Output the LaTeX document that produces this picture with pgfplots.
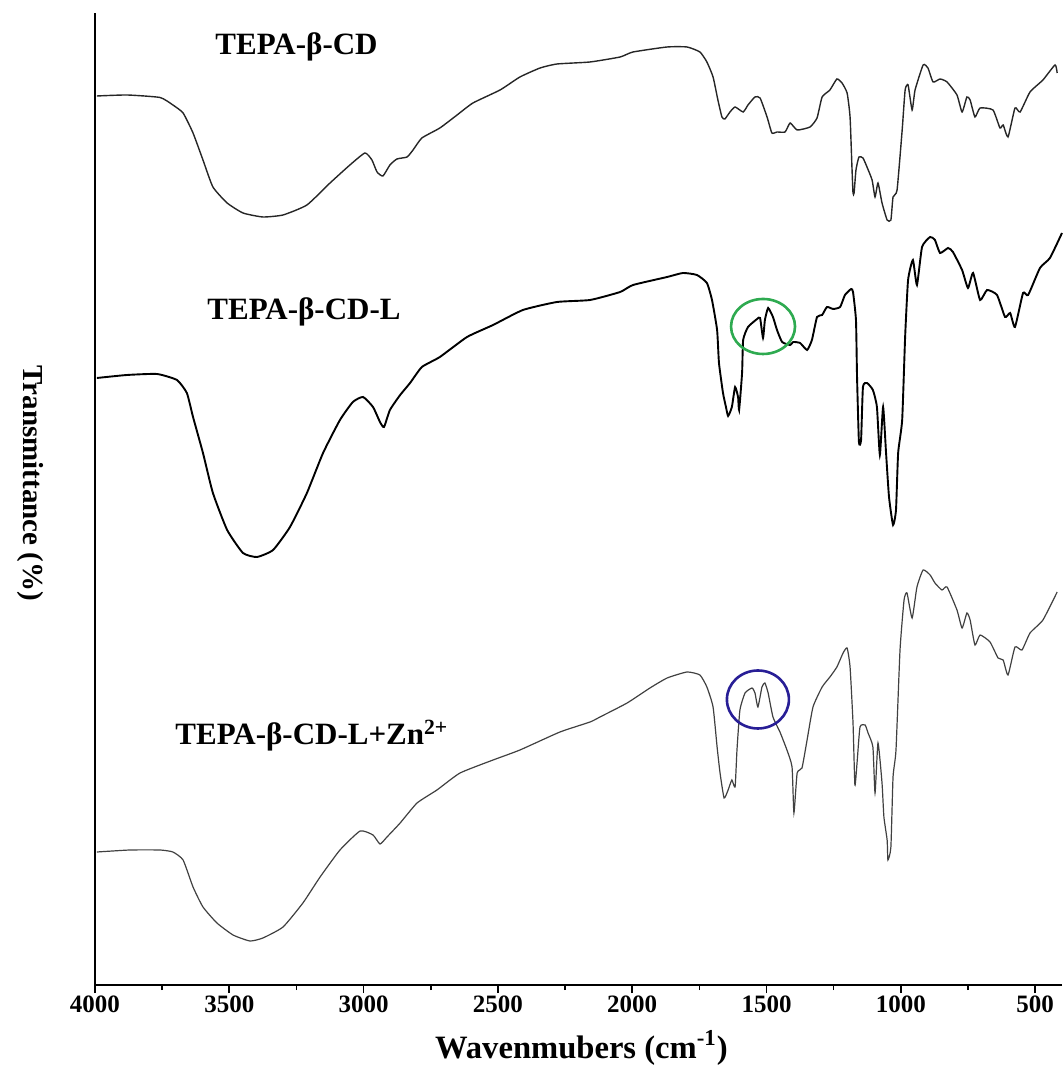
\documentclass[border=0pt]{standalone}
\usepackage{fontspec}
\setmainfont{Liberation Serif}
\usepackage{pgfplots}
\pgfplotsset{compat=1.18}
\definecolor{ringgreen}{RGB}{46,170,80}
\definecolor{ringblue}{RGB}{40,30,150}
\begin{document}
\begin{tikzpicture}
\useasboundingbox (-47.5pt,-47pt) rectangle (483.5pt,492.5pt);
\begin{axis}[
  at={(0pt,0pt)}, anchor=south west,
  scale only axis, width=483.5pt, height=486pt,
  x dir=reverse, xmin=400, xmax=4000, ymin=0, ymax=972,
  axis x line*=bottom, axis y line*=left,
  axis line style={-, line width=1pt},
  ytick=\empty,
  xtick={500,1000,...,4000},
  minor xtick={750,1250,...,3750},
  tick align=outside, major tick length=4pt, minor tick length=2.5pt,
  tick style={line width=0.8pt, black},
  xticklabel style={font=\fontsize{12.5}{12.5}\selectfont\bfseries, yshift=2pt},
  /pgf/number format/assume math mode=true,
  /pgf/number format/set thousands separator={},
  xlabel={\fontsize{16.3}{16.3}\selectfont\bfseries Wavenmubers (cm\textsuperscript{-1})},
  xlabel style={at={(axis description cs:0.503,-0.065)}, anchor=center},
  ylabel={\fontsize{14.5}{14.5}\selectfont\bfseries Transmittance (\%)},
  ylabel style={rotate=180, at={(axis description cs:-0.067,0.516)}, anchor=center},
  clip=false,
]
% TEPA-beta-CD
\addplot[black!85, line width=0.7pt, smooth, tension=0.3] coordinates {
(3993,889)(3881,890)(3758,887.5)(3710,880)(3672,872)(3635,852)(3598,825)(3561,798)(3508,782)(3449,772)
(3375,768)(3300,770)(3211,780)(3125,802)(3051,820)(2995,832)(2969,825)(2950,813)(2928,809)(2902,820)
(2876,826)(2838,828)(2816,835)(2783,847)(2716,857)(2652,870)(2593,882)(2492,895)(2418,908)(2343,917)
(2280,921)(2157,923)(2045,928)(1997,933)(1870,938)(1796,938)(1748,933)(1722,923)(1699,908)(1681,885)
(1666,868)(1655,866)(1636,873)(1617,878)(1587,873)(1569,880)(1543,888)(1524,887)(1498,868)(1480,852)
(1461,853)(1431,853)(1412,862)(1386,855)(1338,858)(1312,867)(1293,888)(1264,895)(1238,906)(1219,902)
(1200,892)(1189,868)(1182,818)(1178,792)(1174,792)(1167,815)(1156,828)(1141,827)(1126,818)(1107,805)
(1096,788)(1085,802)(1070,782)(1051,765)(1037,765)(1029,788)(1014,795)(995,855)(984,895)(973,900)
(958,875)(947,895)(917,920)(899,917)(880,903)(854,906)(828,903)(791,890)(772,873)(754,888)
(742,885)(724,868)(705,877)(657,875)(631,857)(619,860)(601,848)(575,877)(556,873)(519,893)
(471,905)(426,920)(418,912)
};
% TEPA-beta-CD-L
\addplot[black, line width=0.95pt, smooth, tension=0.3] coordinates {
(3993,607)(3881,610)(3769,611)(3695,605)(3658,592)(3635,568)(3598,532)(3561,492)(3508,455)(3449,432)
(3397,428)(3337,435)(3274,458)(3211,492)(3151,532)(3088,565)(3040,583)(3002,588)(2965,578)(2939,563)
(2924,558)(2902,575)(2864,590)(2827,602)(2783,618)(2716,628)(2615,648)(2518,660)(2407,675)(2280,683)
(2157,685)(2045,693)(1997,700)(1870,708)(1811,712)(1759,710)(1722,702)(1703,685)(1684,655)(1677,622)
(1662,592)(1651,578)(1643,569)(1629,578)(1617,598)(1606,588)(1602,575)(1591,612)(1587,645)(1569,658)
(1535,666)(1524,667)(1513,647)(1506,665)(1494,677)(1476,668)(1461,655)(1442,643)(1412,640)(1401,643)
(1375,642)(1349,635)(1331,645)(1312,668)(1293,670)(1275,678)(1252,676)(1226,678)(1208,690)(1185,696)
(1178,693)(1167,665)(1163,608)(1156,543)(1148,545)(1141,598)(1126,602)(1104,595)(1089,578)(1078,530)
(1066,578)(1055,532)(1044,488)(1029,460)(1018,475)(1010,532)(995,565)(984,648)(973,705)(955,725)
(940,700)(921,738)(891,748)(873,745)(854,732)(824,737)(806,733)(772,715)(750,697)(731,712)
(705,685)(679,695)(642,690)(612,668)(593,672)(575,658)(545,692)(526,690)(482,717)(445,727)
(400,752)
};
% TEPA-beta-CD-L+Zn2+
\addplot[black!75, line width=0.6pt, smooth, tension=0.3] coordinates {
(3993,133)(3870,135)(3758,135)(3710,133)(3672,125)(3635,98)(3598,78)(3546,62)(3486,50)(3423,44)
(3375,47)(3300,58)(3226,82)(3162,108)(3088,135)(3013,154)(2965,150)(2939,141)(2913,148)(2864,162)
(2801,182)(2727,195)(2641,212)(2518,225)(2418,235)(2269,253)(2157,263)(2120,268)(2019,282)(1934,297)
(1870,307)(1796,313)(1748,310)(1722,298)(1699,278)(1684,238)(1673,212)(1658,187)(1643,195)(1629,205)
(1617,198)(1610,235)(1599,275)(1580,292)(1554,297)(1543,292)(1532,278)(1517,298)(1506,302)(1494,292)
(1476,268)(1450,253)(1424,235)(1405,218)(1398,172)(1386,212)(1368,217)(1349,245)(1327,278)(1293,298)
(1264,308)(1238,318)(1215,332)(1200,337)(1189,318)(1178,262)(1171,200)(1163,222)(1152,258)(1133,260)
(1122,252)(1104,238)(1096,192)(1085,242)(1070,202)(1063,168)(1051,145)(1048,125)(1037,138)(1029,208)
(1018,235)(1003,335)(988,385)(977,392)(958,367)(940,398)(917,415)(891,410)(873,402)(847,395)
(828,398)(791,375)(772,357)(754,372)(742,365)(724,340)(705,350)(668,343)(638,327)(619,325)
(601,310)(575,338)(549,335)(519,352)(471,365)(418,393)
};
\node[anchor=base west, font=\fontsize{15.5}{15.5}\selectfont\bfseries, inner sep=0pt] at (axis cs:3553,930) {TEPA-β-CD};
\node[anchor=base west, font=\fontsize{15.5}{15.5}\selectfont\bfseries, inner sep=0pt] at (axis cs:3583,665) {TEPA-β-CD-L};
\node[anchor=base west, font=\fontsize{15.5}{15.5}\selectfont\bfseries, inner sep=0pt] at (axis cs:3702,240) {TEPA-β-CD-L+Zn\textsuperscript{2+}};
\draw[ringgreen, line width=1.3pt] (axis cs:1513,658.5) ellipse [x radius=16pt, y radius=13.75pt];
\draw[ringblue, line width=1.3pt] (axis cs:1532,285.5) ellipse [x radius=15.5pt, y radius=14.5pt];
\end{axis}
\end{tikzpicture}
\end{document}
